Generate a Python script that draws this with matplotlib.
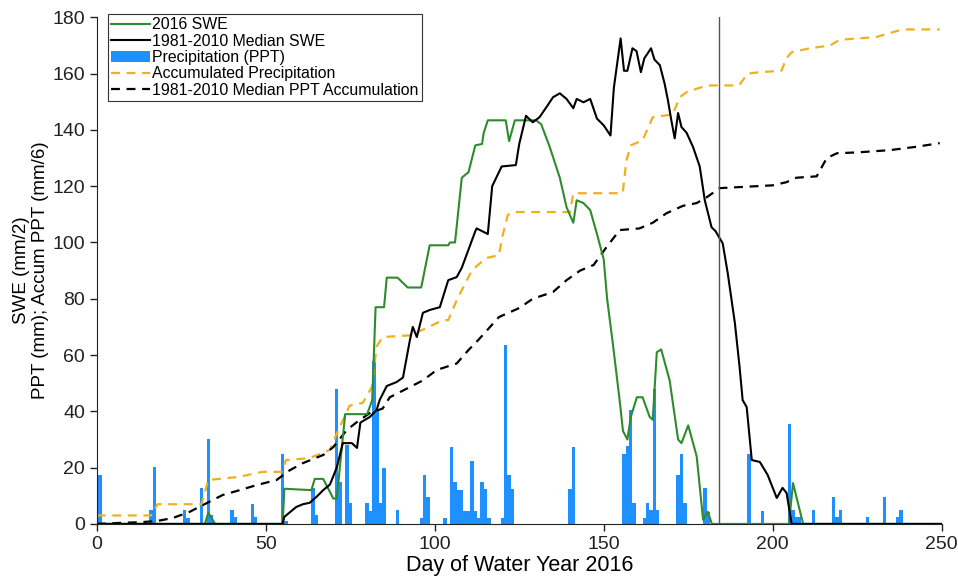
import matplotlib
matplotlib.use("Agg")
import matplotlib.pyplot as plt
import numpy as np

plt.rcParams['font.family'] = ['Liberation Sans', 'DejaVu Sans']

# ---- Data ----
swe2016_day = [0, 32, 33, 34, 35, 55, 55.5, 63.5, 64.5, 67, 70, 71, 73.5, 80, 81.5, 82.5, 85, 85.8, 89,
               92, 96, 98.5, 104, 104.5, 106, 108, 110, 112, 114, 114.5, 115.7, 121, 122, 123.7, 130,
               131.5, 134, 137, 139, 141, 142, 144, 146, 148, 150, 151, 152.7, 154.7, 155.7, 157, 158,
               159.8, 161.5, 163.6, 164.5, 165.7, 167, 169.5, 172, 173, 175, 177.5, 179.4, 180.8, 182,
               204.8, 206, 209, 250]
swe2016_val = [0, 0, 4, 2, 0, 0, 12.5, 12, 16, 16, 9, 9, 39, 39, 44, 77, 77, 87.5, 87.5,
               84, 84, 99, 99, 100, 100, 123, 125, 134.5, 135, 139, 143.4, 143.4, 136, 143.4, 143.4,
               142, 134, 123, 112.5, 107, 115, 114, 111.5, 103, 94, 80, 64, 44, 33, 30, 38,
               45, 45, 38, 37, 61, 62, 51, 30, 28.7, 35, 24, 1.5, 4.3, 0,
               0, 14.5, 0, 0]

median_swe_day = [0, 55, 55.5, 57, 59, 61, 63, 65, 67, 69, 71, 72.8, 75.5, 77, 78, 80.8, 82.8, 83.7,
                  85.8, 88.7, 90.6, 92.6, 93.5, 94.7, 96.5, 98.5, 101.5, 104, 106.5, 108, 112, 112.4,
                  115.7, 117, 119.8, 124, 125, 127, 129, 131, 133, 135, 137, 139, 141, 142, 144, 146,
                  148, 150, 152, 153, 155, 156, 157, 158.5, 159.7, 161, 162, 164, 165, 166.6, 168,
                  169, 170, 171, 172, 173, 174.5, 176.4, 178.4, 179.9, 181.9, 183.1, 184.3, 185.2,
                  186.7, 188.8, 190.2, 191.1, 192.3, 193.8, 196.2, 198.5, 201.2, 202.9, 204.1, 205.6, 250]
median_swe_val = [0, 0, 2.5, 4, 6, 7, 7.5, 9.6, 12, 14, 20, 28.7, 28.7, 27, 36, 38, 40.5, 44,
                  49, 50.4, 52, 65, 70, 66.4, 75, 76, 77, 86.6, 87.7, 91, 104, 105,
                  103, 120, 127, 127.5, 135, 145, 142.7, 144.5, 148, 151.6, 153, 151, 147.7, 151, 149.8, 151,
                  144, 141.6, 138, 155, 172.5, 161, 161, 169, 168, 160.5, 165.4, 169, 165, 163, 156.5,
                  150.5, 143.4, 137, 146, 141, 139, 134, 127, 115, 105.4, 104, 101.5, 99.7,
                  89, 71.4, 55.7, 44, 41.5, 22.7, 22, 17.4, 9.2, 12.8, 11, 0, 0]

ppt_day = [1, 16, 17, 26, 27, 31, 33, 34, 40, 41, 46, 47, 55, 56, 64, 65, 71, 72, 74, 75,
           80, 81, 82, 83, 84, 85, 89, 96, 97, 98, 103, 105, 106, 107, 108, 109, 110, 111, 112,
           113, 114, 115, 116, 120, 121, 122, 123, 140, 141, 156, 157, 158, 159, 162, 163, 164,
           165, 166, 172, 173, 174, 180, 181, 193, 197, 205, 206, 207, 208, 212, 218, 219, 220,
           228, 233, 237, 238]
ppt_val = [17.5, 5, 20.3, 5, 2, 12.6, 30.3, 3, 4.8, 2.5, 7, 2.5, 25, 1, 12.6, 3, 48, 15, 28, 7.4,
           7.4, 4.5, 58, 40, 7.4, 20, 5, 2, 17.4, 9.6, 2, 27.4, 15, 12, 12, 4.6, 4.6, 22.4, 4.6,
           2, 15, 12.4, 2, 2, 63.5, 17.4, 12.4, 12.4, 27.4, 25, 27.7, 40.5, 7.4, 2, 7.4, 5,
           48, 5, 17.4, 25, 7.4, 12.8, 4.3, 25, 4.5, 35.5, 5, 2.5, 2.5, 5, 9.6, 2.5, 5,
           2.5, 9.6, 2.5, 5]

accum_day = [0, 16, 18, 31, 33, 42, 49, 54.7, 56, 63, 69, 71, 74.8, 78.7, 81.4, 82.8, 84.6, 92.6,
             96.5, 102.4, 104, 106.5, 109.5, 111, 115, 119, 120, 121.6, 123, 140, 141, 155.6, 156.7,
             158, 161.5, 164.5, 170.4, 172.5, 174.5, 180.5, 190, 192.6, 196, 202.6, 204, 205.6, 211,
             217, 219.8, 230.7, 235.5, 238.5, 249.4]
accum_val = [3, 3, 7, 7, 15.6, 16.7, 18.5, 18.5, 22.7, 23.4, 26.3, 32, 42, 43, 48.6, 63, 66.4, 67,
             69, 72.4, 72.4, 79.5, 86.6, 90, 94.4, 95.5, 102, 109.7, 110.8, 110.8, 117.5, 117.5, 129,
             134.5, 136.3, 144.5, 145.5, 151.6, 153.4, 155.8, 155.8, 160, 160.5, 161, 165.4, 167.6, 169,
             170, 172, 173, 174.7, 175.7, 175.7]

med_accum_day = [0, 7.7, 12.7, 17.7, 22.5, 27.5, 31.4, 37.3, 42.3, 47.3, 53.2, 57, 61, 67, 70, 74, 77,
                 80.8, 84.6, 86.7, 92.6, 96.5, 100.6, 106.5, 110, 113, 119, 125, 129, 135, 139, 143,
                 147, 150.8, 154.7, 160.6, 164.5, 168.6, 173.4, 177.5, 180.4, 184.3, 200, 204, 207,
                 213, 216, 219, 225, 234.6, 242.5, 249.4]
med_accum_val = [0, 0.4, 0.6, 1, 2.1, 4.3, 6.7, 10.3, 12, 13.8, 15.6, 19, 21.6, 24.5, 27.3, 33.4, 36.2,
                 39.4, 41, 45, 48.6, 51, 54.7, 57, 61.8, 65.5, 73.5, 76.7, 80, 82.4, 86.6, 90,
                 92, 98.3, 104.4, 105, 107, 110.4, 113, 114, 116, 119.3, 120.3, 121.4, 123,
                 123.5, 130, 131.7, 132, 132.8, 134, 135.3]

vline_day = 184
legend_labels = ["2016 SWE", "1981-2010 Median SWE", "Precipitation (PPT)",
                 "Accumulated Precipitation", "1981-2010 Median PPT Accumulation"]

# ---- Figure ----
fig = plt.figure(figsize=(9.58, 5.77), dpi=100)
ax = fig.add_axes([0.101, 0.092, 0.882, 0.878])

bars = ax.bar(ppt_day, ppt_val, width=1.0, color='#1E90FF', linewidth=0, zorder=1,
              label=legend_labels[2])
l1, = ax.plot(swe2016_day, swe2016_val, color='#2E8B2E', lw=1.5, zorder=3, label=legend_labels[0])
l2, = ax.plot(median_swe_day, median_swe_val, color='black', lw=1.5, zorder=4, label=legend_labels[1])
l4, = ax.plot(accum_day, accum_val, color='#EDB120', lw=1.6, ls=(0, (4, 3)), zorder=2,
              label=legend_labels[3])
l5, = ax.plot(med_accum_day, med_accum_val, color='black', lw=1.6, ls=(0, (4, 3)), zorder=2,
              label=legend_labels[4])
ax.axvline(vline_day, color='#555555', lw=1.0, zorder=5)

ax.set_xlim(0, 250)
ax.set_ylim(0, 180)
ax.set_xticks([0, 50, 100, 150, 200, 250])
ax.set_yticks(np.arange(0, 181, 20))
for s in ['top', 'right']:
    ax.spines[s].set_visible(False)
ax.spines['left'].set_color('#222222')
ax.spines['bottom'].set_color('#222222')
ax.tick_params(direction='out', length=5, width=1, labelsize=14, colors='#222222')
ax.set_xlabel("Day of Water Year 2016", fontsize=15.5, labelpad=2)
ax.set_ylabel("SWE (mm/2)\nPPT (mm); Accum PPT (mm/6)", fontsize=13.5, linespacing=1.15,
              labelpad=2)

leg = ax.legend(handles=[l1, l2, bars, l4, l5], loc='upper left',
                bbox_to_anchor=(0.013, 1.006), fontsize=11.4, frameon=True, fancybox=False,
                edgecolor='#333333', framealpha=1, borderpad=0.2, labelspacing=0.08,
                handlelength=2.5, handletextpad=0.1, borderaxespad=0)
leg.get_frame().set_linewidth(0.8)

fig.savefig("out.png", dpi=100)
